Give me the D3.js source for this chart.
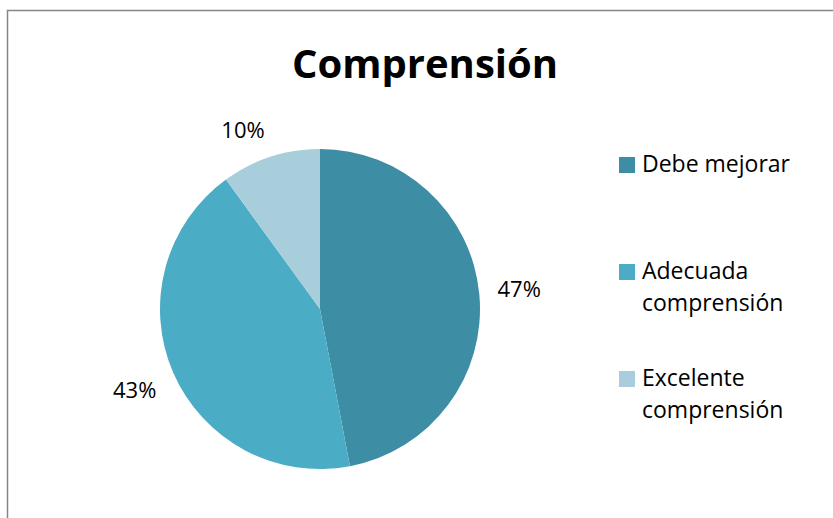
<!DOCTYPE html>
<html><head><meta charset="utf-8">
<script src="https://cdn.jsdelivr.net/npm/d3@7"></script>
<style>body{margin:0;background:#fff}svg{display:block}</style>
</head><body>
<svg id="c" width="833" height="518"></svg>
<script>
const title = "Comprensión";
const categories = ["Debe mejorar", "Adecuada comprensión", "Excelente comprensión"];
const legendLines = [["Debe mejorar"], ["Adecuada", "comprensión"], ["Excelente", "comprensión"]];
const values = [47, 43, 10];
const labels = ["47%", "43%", "10%"];
const colors = ["#3D8DA5", "#4BACC6", "#A8CEDC"];

const svg = d3.select("#c");
const font = "'Open Sans', 'DejaVu Sans', sans-serif";

svg.append("rect").attr("x", 7.5).attr("y", 10.5).attr("width", 900).attr("height", 600)
  .attr("fill", "#fff").attr("stroke", "#868686").attr("stroke-width", 1.5);

svg.append("text").attr("x", 425).attr("y", 78).attr("text-anchor", "middle")
  .attr("font-family", font).attr("font-weight", "bold").attr("font-size", 40)
  .attr("fill", "#000").text(title);

const cx = 320, cy = 309, r = 160;
const pie = d3.pie().sort(null).value(d => d);
const arcs = pie(values);
const arc = d3.arc().innerRadius(0).outerRadius(r);
const g = svg.append("g").attr("transform", `translate(${cx},${cy})`);
g.selectAll("path").data(arcs).join("path")
  .attr("d", arc).attr("fill", (d, i) => colors[i]);

const labelR = r + 18;
const clamp = v => Math.max(-1, Math.min(1, v));
g.selectAll("text.lbl").data(arcs).join("text").attr("class", "lbl")
  .each(function(d, i) {
    const a = (d.startAngle + d.endAngle) / 2;
    const sx = Math.sin(a), sy = -Math.cos(a);
    const w = 44, h = 20;
    const x = sx * labelR + clamp(sx * 4) * w / 2;
    const y = sy * labelR + clamp(sy * 4) * h / 2;
    d3.select(this).attr("x", x).attr("y", y + 8);
  })
  .attr("text-anchor", "middle").attr("font-family", font).attr("font-size", 22)
  .attr("fill", "#000").text((d, i) => labels[i]);

const legY = [172, 279, 386];
const lg = svg.append("g");
categories.forEach((c, i) => {
  lg.append("rect").attr("x", 619).attr("y", legY[i] - 15).attr("width", 16).attr("height", 16)
    .attr("fill", colors[i]);
  const t = lg.append("text").attr("x", 642).attr("y", legY[i])
    .attr("font-family", font).attr("font-size", 23).attr("fill", "#000");
  legendLines[i].forEach((ln, j) => {
    t.append("tspan").attr("x", 642).attr("dy", j === 0 ? 0 : 32).text(ln);
  });
});
</script>
</body></html>
